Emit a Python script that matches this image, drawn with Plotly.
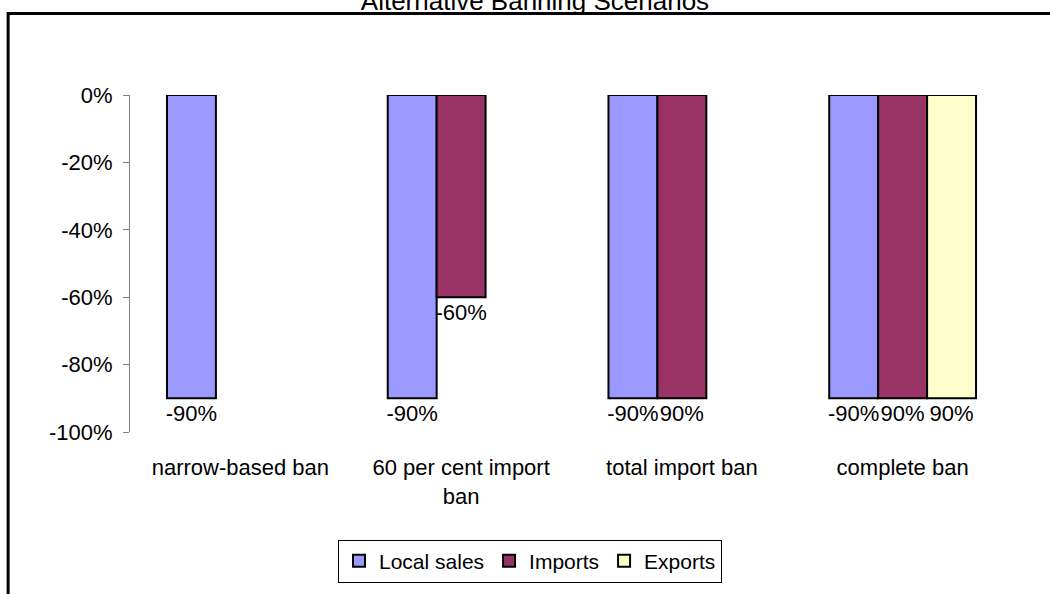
import plotly.graph_objects as go

categories = ["narrow-based ban", "60 per cent import ban", "total import ban", "complete ban"]
category_labels = ["narrow-based ban", "60 per cent import<br>ban", "total import ban", "complete ban"]
local_sales = [-90, -90, -90, -90]
imports = [None, -60, -90, -90]
exports = [None, None, None, -90]
local_labels = ["-90%", "-90%", "-90%", "-90%"]
imports_labels = ["", "-60%", "90%", "90%"]
exports_labels = ["", "", "", "90%"]
y_tickvals = [0, -20, -40, -60, -80, -100]
y_ticktext = ["0%", "-20%", "-40%", "-60%", "-80%", "-100%"]

FONT = "Liberation Sans, Arial, sans-serif"
FS = 22

fig = go.Figure()
series = [
    ("Local sales", local_sales, local_labels, "#9999FF"),
    ("Imports", imports, imports_labels, "#993366"),
    ("Exports", exports, exports_labels, "#FFFFCC"),
]
for name, vals, labels, color in series:
    fig.add_trace(go.Bar(
        name=name, x=categories, y=vals, text=labels,
        textposition="outside", constraintext="none", cliponaxis=False,
        textfont=dict(family=FONT, size=FS, color="black"),
        marker=dict(color=color, line=dict(color="black", width=2)),
        hoverinfo="x+y",
    ))

n = len(categories)
boundaries = [i - 0.5 for i in range(n + 1)]

fig.update_layout(
    width=1050, height=594,
    paper_bgcolor="white", plot_bgcolor="white",
    font=dict(family=FONT, size=FS, color="black"),
    barmode="group", bargap=0.335, bargroupgap=0,
    margin=dict(l=130, r=37, t=95, b=160),
    title=dict(text="Alternative Banning Scenarios", x=0.5095, xanchor="center",
               y=1 - 10 / 594, yanchor="bottom", yref="container", pad=dict(t=0, b=0),
               font=dict(family=FONT, size=26, color="black")),
    xaxis=dict(
        type="category", categoryorder="array", categoryarray=categories,
        range=[-0.5, n - 0.5],
        tickvals=categories, ticktext=category_labels,
        showline=False, ticks="", showgrid=False, zeroline=False,
        ticklabelstandoff=20,
        tickfont=dict(family=FONT, size=FS, color="black"),
    ),
    xaxis2=dict(
        overlaying="x", side="top", anchor="y", type="linear",
        range=[-0.5, n - 0.5], tickvals=boundaries,
        showline=True, linecolor="#808080", linewidth=1,
        ticks="inside", ticklen=7, tickcolor="#808080", tickwidth=1,
        showticklabels=False, showgrid=False, zeroline=False,
    ),
    yaxis=dict(
        range=[-100, 0], tickvals=y_tickvals, ticktext=y_ticktext,
        showline=True, linecolor="#808080", linewidth=1,
        ticks="outside", ticklen=6, tickcolor="#808080",
        ticklabelstandoff=6,
        showgrid=False, zeroline=False,
        tickfont=dict(family=FONT, size=FS, color="black"),
    ),
    legend=dict(
        orientation="h", x=0.453, xanchor="center", y=-0.319, yanchor="top",
        bordercolor="black", borderwidth=1,
        font=dict(family=FONT, size=21, color="black"),
        traceorder="normal", itemwidth=30,
    ),
    shapes=[dict(type="rect", xref="paper", yref="paper",
                 x0=-0.138, x1=1.2, y0=-0.6, y1=1.242,
                 line=dict(color="black", width=3), fillcolor="rgba(0,0,0,0)")],
)

fig.write_html("out.html", config={"displayModeBar": False},
               post_script="document.body.style.margin='0';")
